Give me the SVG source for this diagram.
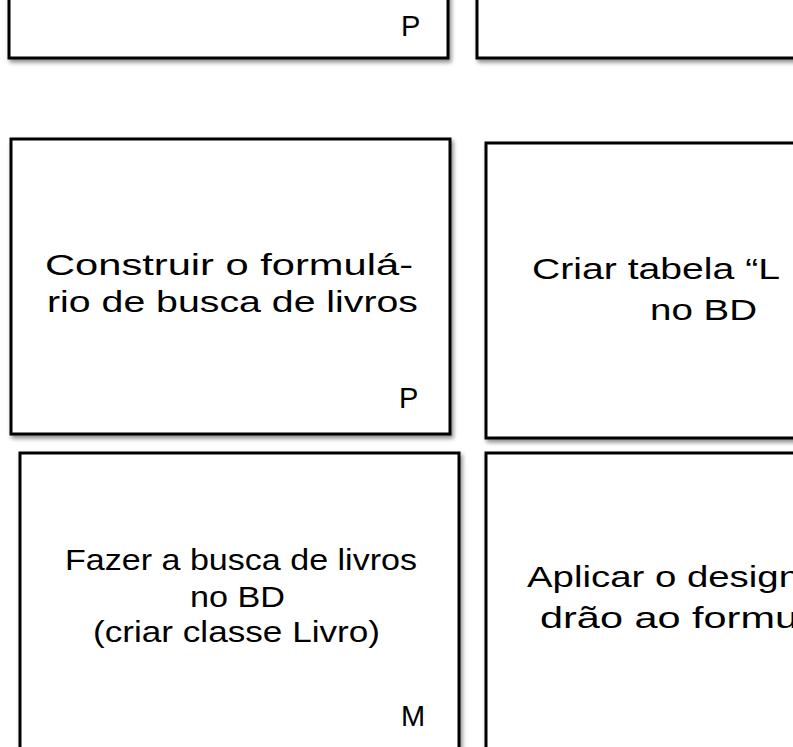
<svg xmlns="http://www.w3.org/2000/svg" width="793" height="747" viewBox="0 0 793 747">
  <style>
    .card { fill: #ffffff; stroke: #000000; stroke-width: 3; filter: url(#shadow); }
    .hand { font-family: "Segoe Print", "Liberation Sans", "DejaVu Sans", sans-serif; font-size: 30px; fill: #000000; }
    .size { font-family: "Liberation Sans", Arial, sans-serif; font-size: 29px; fill: #000000; }
  </style>
  <defs>
    <filter id="shadow" x="-10%" y="-10%" width="120%" height="120%">
      <feDropShadow dx="2" dy="3" stdDeviation="2" flood-color="#000000" flood-opacity="0.45"/>
    </filter>
  </defs>
  <rect width="793" height="747" fill="#ffffff"/>

  <g id="card-top-left">
    <rect class="card" x="9" y="-240" width="439" height="298"/>
    <text class="size" x="401" y="36">P</text>
  </g>

  <g id="card-top-right">
    <rect class="card" x="477" y="-240" width="440" height="298"/>
  </g>

  <g id="card-construir">
    <rect class="card" x="11" y="139" width="439" height="295"/>
    <text class="hand" x="45" y="275" textLength="368" lengthAdjust="spacingAndGlyphs">Construir o formulá-</text>
    <text class="hand" x="47" y="312" textLength="371" lengthAdjust="spacingAndGlyphs">rio de busca de livros</text>
    <text class="size" x="399" y="408">P</text>
  </g>

  <g id="card-criar-tabela">
    <rect class="card" x="486" y="143" width="440" height="295"/>
    <text class="hand" x="532" y="279" textLength="248" lengthAdjust="spacingAndGlyphs">Criar tabela “L</text>
    <text class="hand" x="650" y="320" textLength="107" lengthAdjust="spacingAndGlyphs">no BD</text>
  </g>

  <g id="card-fazer-busca">
    <rect class="card" x="20" y="453" width="439" height="320"/>
    <text class="hand" x="65" y="570" textLength="352" lengthAdjust="spacingAndGlyphs">Fazer a busca de livros</text>
    <text class="hand" x="190" y="607" textLength="95" lengthAdjust="spacingAndGlyphs">no BD</text>
    <text class="hand" x="93" y="642" textLength="287" lengthAdjust="spacingAndGlyphs">(criar classe Livro)</text>
    <text class="size" x="401" y="726">M</text>
  </g>

  <g id="card-aplicar-design">
    <rect class="card" x="486" y="453" width="440" height="320"/>
    <text class="hand" x="527" y="587" textLength="273" lengthAdjust="spacingAndGlyphs">Aplicar o design</text>
    <text class="hand" x="540" y="628" textLength="258" lengthAdjust="spacingAndGlyphs">drão ao formu</text>
  </g>

  <g id="connectors"/>
</svg>
